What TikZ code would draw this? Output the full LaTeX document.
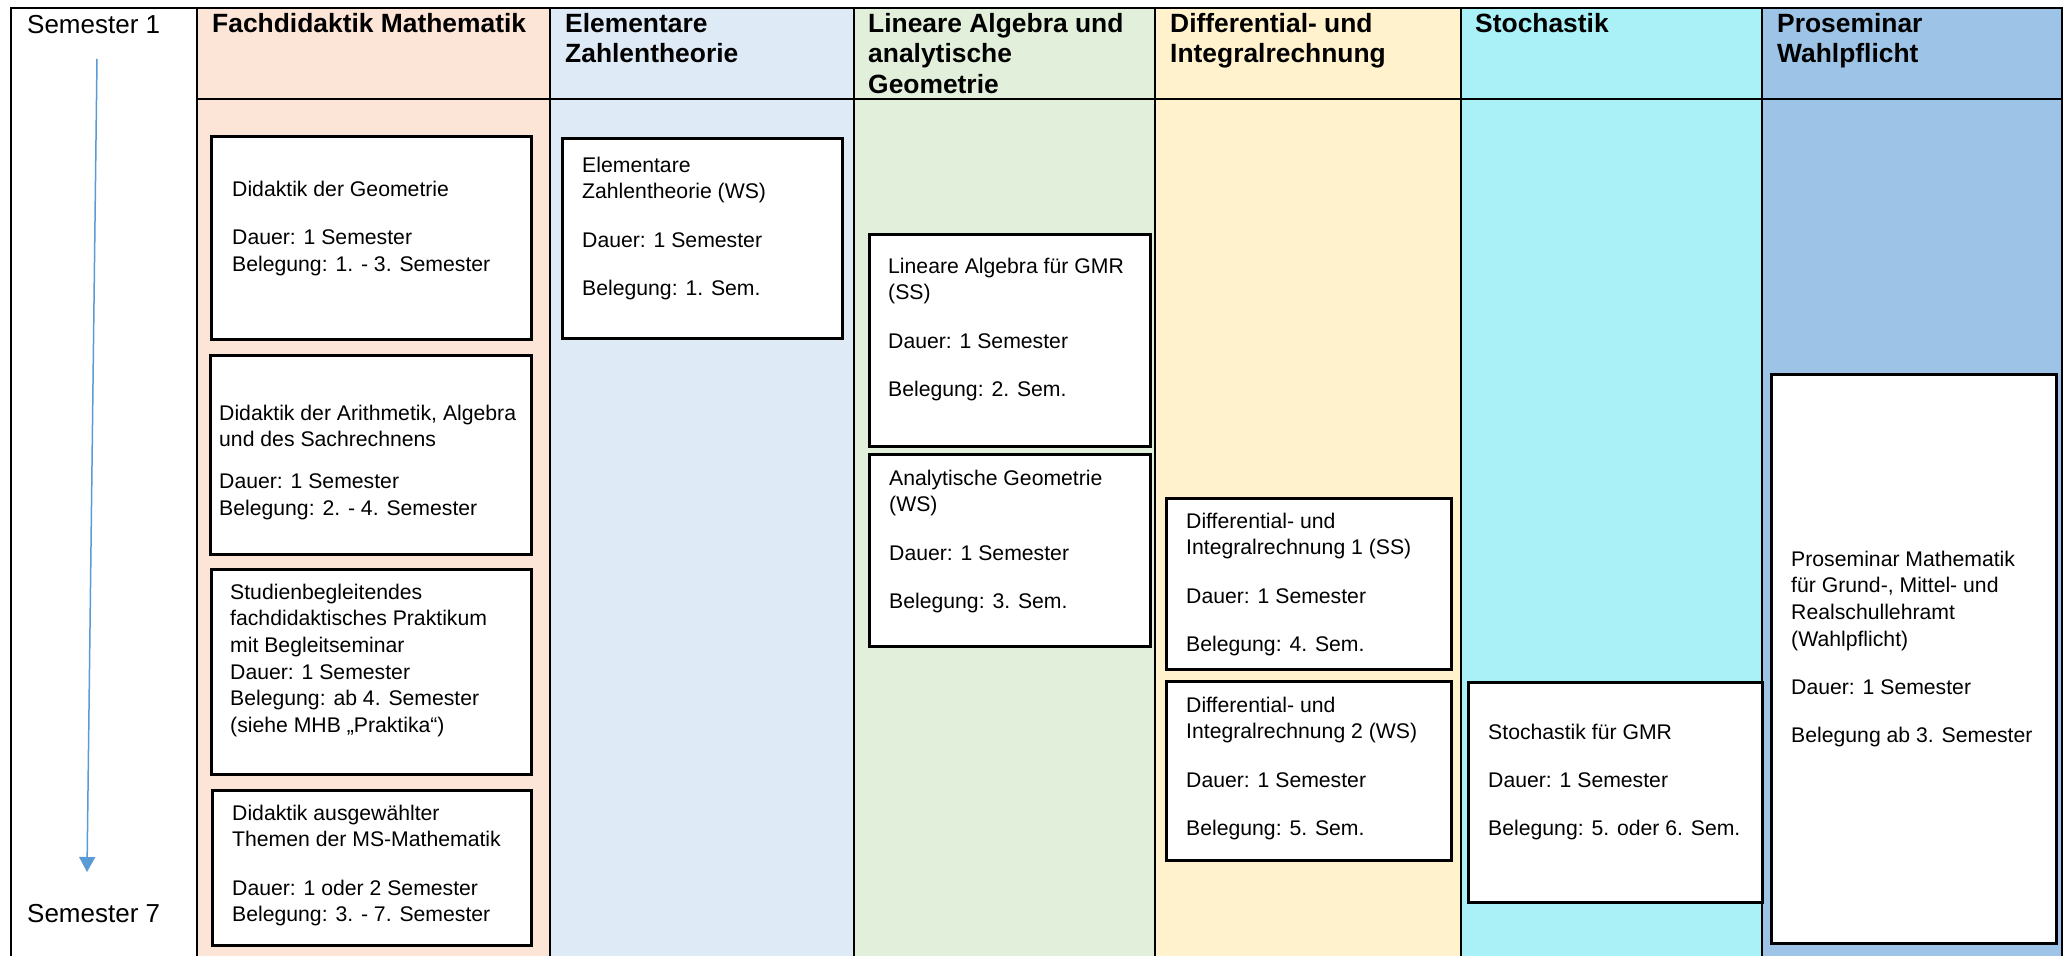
\documentclass[tikz,border=0pt]{standalone}
\usepackage{fontspec}
\setmainfont{Liberation Sans}
\usetikzlibrary{arrows.meta}
\definecolor{fdpeach}{HTML}{FCE4D6}
\definecolor{eztblue}{HTML}{DEEAF6}
\definecolor{lagreen}{HTML}{E2EFDA}
\definecolor{diyellow}{HTML}{FFF2CC}
\definecolor{stcyan}{HTML}{A9F1F7}
\definecolor{psblue}{HTML}{9DC3E6}
\definecolor{timeblue}{HTML}{5B9BD5}
\def\gap{\\[21.5pt]}

\begin{document}
\begin{tikzpicture}[x=1pt, y=-1pt,
  grid/.style={line width=2.5pt},
  head/.style={anchor=north west, inner sep=0, align=left, yshift=19.2pt,
    font=\fontsize{26.4}{30.5}\selectfont\bfseries},
  sem/.style={anchor=base west, inner sep=0, font=\fontsize{26}{30}\selectfont},
  modul/.style={draw, line width=3pt, fill=white, anchor=north west, inner sep=0},
  body/.style={anchor=north west, inner sep=0, align=left, yshift=15.4pt,
    font=\fontsize{21.2}{26.7}\selectfont}]
\useasboundingbox (0,0) rectangle (2069,956);

% column backgrounds
\fill [white] (11,8) rectangle (197,956);
\fill [fdpeach] (197,8) rectangle (550,956);
\fill [eztblue] (550,8) rectangle (854,956);
\fill [lagreen] (854,8) rectangle (1155,956);
\fill [diyellow] (1155,8) rectangle (1461,956);
\fill [stcyan] (1461,8) rectangle (1762,956);
\fill [psblue] (1762,8) rectangle (2062,956);

% table lines
\draw [grid] (11,956) -- (11,8) -- (2062,8) -- (2062,956);
\draw [grid] (197,99) -- (2062,99);
\draw [grid] (197,8) -- (197,956) (550,8) -- (550,956) (854,8) -- (854,956)
  (1155,8) -- (1155,956) (1461,8) -- (1461,956) (1762,8) -- (1762,956);

% headers
\node (SEM1) at (27,33) [sem] {Semester 1};
\node (HFD) at (212,32) [head] {Fachdidaktik Mathematik};
\node (HEZT) at (565,32) [head] {Elementare\\ Zahlentheorie};
\node (HLA) at (868,32) [head] {Lineare Algebra und\\ analytische\\ Geometrie};
\node (HDI) at (1170,32) [head] {Differential- und\\ Integralrechnung};
\node (HST) at (1475,32) [head] {Stochastik};
\node (HPS) at (1777,32) [head] {Proseminar\\ Wahlpflicht};
\node (SEM7) at (27,922) [sem] {Semester 7};

% time line
\coordinate (T1) at (97,59);
\coordinate (T7) at (87,872);
\draw [timeblue, line width=1.5pt, -{Triangle[width=16pt,length=15pt]}] (T1) -- (T7);

% Fachdidaktik
\node (GEO) at (210,135) [modul, minimum width=320pt, minimum height=203pt] {};
\node (GEOt) at (232,196) [body] {Didaktik der Geometrie\gap Dauer: 1 Semester\\ Belegung: 1. - 3. Semester};
\node (ARITH) at (209,354) [modul, minimum width=321pt, minimum height=199pt] {};
\node (ARITHt) at (219,420) [body] {Didaktik der Arithmetik, Algebra\\ und des Sachrechnens\\[15pt] Dauer: 1 Semester\\ Belegung: 2. - 4. Semester};
\node (PRAKT) at (210,568) [modul, minimum width=320pt, minimum height=205pt] {};
\node (PRAKTt) at (230,599) [body] {Studienbegleitendes\\ fachdidaktisches Praktikum\\ mit Begleitseminar\\ Dauer: 1 Semester\\ Belegung: ab 4. Semester\\ (siehe MHB „Praktika“)};
\node (AUSG) at (211,789) [modul, minimum width=319pt, minimum height=155pt] {};
\node (AUSGt) at (232,820) [body] {Didaktik ausgewählter\\ Themen der MS-Mathematik\gap Dauer: 1 oder 2 Semester\\ Belegung: 3. - 7. Semester};

% Elementare Zahlentheorie
\node (EZT) at (561,137) [modul, minimum width=280pt, minimum height=200pt] {};
\node (EZTt) at (582,172) [body] {Elementare\\ Zahlentheorie (WS)\gap Dauer: 1 Semester\gap Belegung: 1. Sem.};

% Lineare Algebra und analytische Geometrie
\node (LA) at (868,233) [modul, minimum width=281pt, minimum height=212pt] {};
\node (LAt) at (888,273) [body] {Lineare Algebra für GMR\\ (SS)\gap Dauer: 1 Semester\gap Belegung: 2. Sem.};
\node (AG) at (868,453) [modul, minimum width=281pt, minimum height=192pt] {};
\node (AGt) at (889,485) [body] {Analytische Geometrie\\ (WS)\gap Dauer: 1 Semester\gap Belegung: 3. Sem.};

% Differential- und Integralrechnung
\node (DI1) at (1165,497) [modul, minimum width=285pt, minimum height=171pt] {};
\node (DI1t) at (1186,528) [body] {Differential- und\\ Integralrechnung 1 (SS)\gap Dauer: 1 Semester\gap Belegung: 4. Sem.};
\node (DI2) at (1165,680) [modul, minimum width=285pt, minimum height=179pt] {};
\node (DI2t) at (1186,712) [body] {Differential- und\\ Integralrechnung 2 (WS)\gap Dauer: 1 Semester\gap Belegung: 5. Sem.};

% Stochastik
\node (STOCH) at (1467,681) [modul, minimum width=294pt, minimum height=220pt] {};
\node (STOCHt) at (1488,739) [body] {Stochastik für GMR\gap Dauer: 1 Semester\gap Belegung: 5. oder 6. Sem.};

% Proseminar
\node (PROSEM) at (1770,373) [modul, minimum width=285pt, minimum height=569pt] {};
\node (PROSEMt) at (1791,566) [body] {Proseminar Mathematik\\ für Grund-, Mittel- und\\ Realschullehramt\\ (Wahlpflicht)\gap Dauer: 1 Semester\gap Belegung ab 3. Semester};
\end{tikzpicture}
\end{document}
